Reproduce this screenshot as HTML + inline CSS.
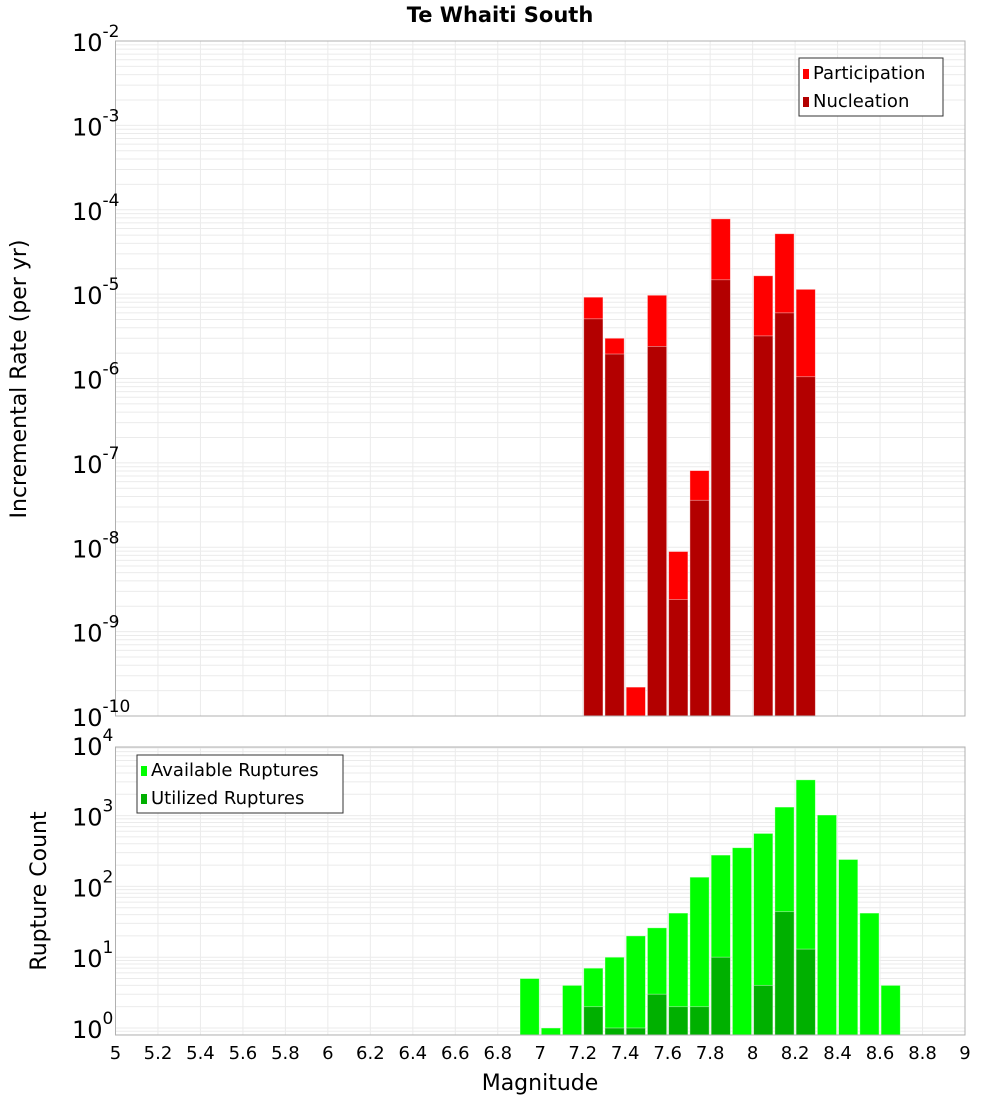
<!DOCTYPE html>
<html><head><meta charset="utf-8"><style>
body{margin:0;background:#fff;}
svg text{font-family:"DejaVu Sans","Liberation Sans",sans-serif;}
</style></head><body>
<svg id="chart" width="1000" height="1100" xmlns="http://www.w3.org/2000/svg">
<text x="500" y="22" text-anchor="middle" font-size="21" font-weight="bold">Te Whaiti South</text>
<text transform="translate(26,379) rotate(-90)" text-anchor="middle" font-size="22">Incremental Rate (per yr)</text>
<text transform="translate(46,891) rotate(-90)" text-anchor="middle" font-size="22">Rupture Count</text>
<text x="540" y="1090" text-anchor="middle" font-size="22">Magnitude</text>
<g id="topPanel"></g>
<g id="botPanel"></g>
<g id="xt"></g>
</svg>
<script>
const magBins = [7.25,7.35,7.45,7.55,7.65,7.75,7.85,7.95,8.05,8.15,8.25];
const participation = [9.2e-6,3.0e-6,2.2e-10,9.7e-6,8.9e-9,8.1e-8,7.8e-5,0,1.65e-5,5.2e-5,1.14e-5];
const nucleation = [5.1e-6,1.95e-6,0,2.4e-6,2.4e-9,3.6e-8,1.48e-5,0,3.2e-6,6.0e-6,1.05e-6];
const countBins = [6.95,7.05,7.15,7.25,7.35,7.45,7.55,7.65,7.75,7.85,7.95,8.05,8.15,8.25,8.35,8.45,8.55,8.65];
const available = [5,1,4,7,10,20,26,42,135,277,352,560,1320,3200,1020,240,42,4];
const utilized = [0,0,0,2,1,1,3,2,2,10,0,4,44,13,0,0,0,0];
const xTicks = [5,5.2,5.4,5.6,5.8,6,6.2,6.4,6.6,6.8,7,7.2,7.4,7.6,7.8,8,8.2,8.4,8.6,8.8,9];
const topDecades = [-10,-9,-8,-7,-6,-5,-4,-3,-2];
const botDecades = [0,1,2,3,4];

const NS="http://www.w3.org/2000/svg";
const L=115.5,R=965;
const xs=m=>L+(m-5)/(9-5)*(R-L);
const T1=41,B1=716, yTop=v=>B1-(Math.log10(v)+10)*((B1-T1)/8);
const T2=747,B2=1035, yBot=v=>1028-Math.log10(v)*70.8;
function mk(p,tag,a){const e=document.createElementNS(NS,tag);for(const k in a)e.setAttribute(k,a[k]);p.appendChild(e);return e;}

function panel(g,T,B,yf,minLog,maxLog){
  mk(g,'rect',{x:L,y:T,width:R-L,height:B-T,fill:'#fff'});
  for(let d=Math.floor(minLog);d<=maxLog;d++){for(let k=1;k<10;k++){const y=yf(k*Math.pow(10,d));if(y>=T&&y<=B){const ln=mk(g,'line',{x1:L,x2:R,y1:y,y2:y,stroke:'#ebebeb','stroke-width':1});
    
    }}}
  xTicks.forEach(t=>{const ln=mk(g,'line',{x1:xs(t),x2:xs(t),y1:T,y2:B,stroke:'#ebebeb','stroke-width':1});
    
    });
}
const topG=document.getElementById('topPanel'), botG=document.getElementById('botPanel');
panel(topG,T1,B1,yTop,-10,-2);
panel(botG,T2,B2,yBot,-1,4);

function bars(g,bins,vals,fill,yf,B,name){
  bins.forEach((m,i)=>{const v=vals[i];if(!(v>0))return;const x0=xs(m-0.05)+1,x1=xs(m+0.05)-1;const y=Math.max(yf(v),0);
    const r=mk(g,'rect',{x:x0,y:y,width:x1-x0,height:B-y,fill:fill,stroke:'#ffffff','stroke-opacity':0.5,'stroke-width':0.8});
    
    });
}
bars(topG,magBins,participation,'#ff0000',yTop,B1,'participation-bar');
bars(topG,magBins,nucleation,'#b30000',yTop,B1,'nucleation-bar');
bars(botG,countBins,available,'#00ff00',yBot,B2,'available-bar');
bars(botG,countBins,utilized,'#00b000',yBot,B2,'utilized-bar');

mk(topG,'rect',{x:L,y:T1,width:R-L,height:B1-T1,fill:'none',stroke:'#b0b0b0'});
mk(botG,'rect',{x:L,y:T2,width:R-L,height:B2-T2,fill:'none',stroke:'#b0b0b0'});

function ylab(g,y,exp,name){
  const t=mk(g,'text',{x:72,y:y+10,'font-size':24});
  
  
  const a=document.createElementNS(NS,'tspan');a.textContent='10';t.appendChild(a);
  const b=document.createElementNS(NS,'tspan');b.setAttribute('dy','-14');b.setAttribute('font-size','17');b.textContent=exp;t.appendChild(b);
}
topDecades.forEach(d=>ylab(topG,yTop(Math.pow(10,d)),String(d),'top-y-tick-label'));
botDecades.forEach(d=>ylab(botG,yBot(Math.pow(10,d)),String(d),'bottom-y-tick-label'));

const xt=document.getElementById('xt');
xTicks.forEach(t=>{const e=mk(xt,'text',{x:xs(t),y:1059,'text-anchor':'middle','font-size':18});e.textContent=String(t);
  
  });

function legend(g,x,y,w,items,name){
  const lg=mk(g,'g',{});
  
  
  mk(lg,'rect',{x:x,y:y,width:w,height:58,fill:'#fff',stroke:'#333','stroke-width':1});
  items.forEach((it,i)=>{mk(lg,'rect',{x:x+4,y:y+11+i*28,width:6,height:10,fill:it[1]});
    const t=mk(lg,'text',{x:x+14,y:y+21+i*28,'font-size':18});t.textContent=it[0];
    
    });
}
legend(topG,799,58,144,[['Participation','#ff0000'],['Nucleation','#b30000']],'rate-legend');
legend(botG,137,755,206,[['Available Ruptures','#00ff00'],['Utilized Ruptures','#00b000']],'count-legend');
</script>
</body></html>
